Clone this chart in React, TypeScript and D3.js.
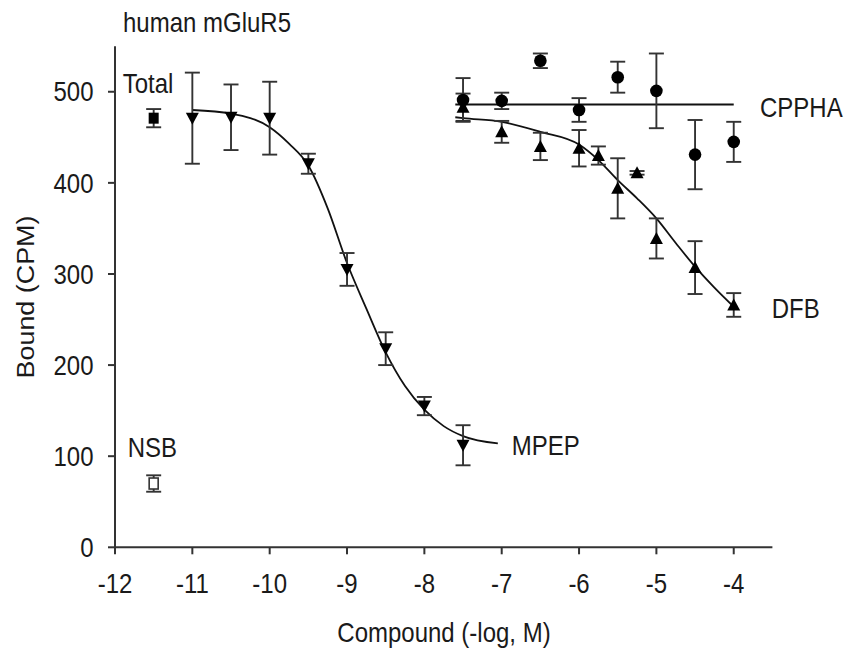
import React from "react";
import * as d3 from "d3";

// ---- data ----
const xTicks = [-12, -11, -10, -9, -8, -7, -6, -5, -4];
const yTicks = [0, 100, 200, 300, 400, 500];

const mpepX = [-11, -10.5, -10, -9.5, -9, -8.5, -8, -7.5];
const mpepY = [471, 472, 471, 421, 305, 218, 155, 112];
const mpepErr = [50, 36, 40, 11, 18, 18, 10, 22];

const dfbX = [-7.5, -7, -6.5, -6, -5.75, -5.5, -5.25, -5, -4.5, -4];
const dfbY = [483, 456, 440, 438, 430, 394, 411, 339, 307, 266];
const dfbErr = [15, 12, 15, 20, 10, 33, 2, 22, 29, 13];

const cpphaX = [-7.5, -7, -6.5, -6, -5.5, -5, -4.5, -4];
const cpphaY = [491, 490, 534, 480, 516, 501, 431, 445];
const cpphaErr = [24, 9, 8, 13, 17, 41, 38, 22];

const totalX = [-11.5];
const totalY = [471];
const totalErr = [10];

const nsbX = [-11.5];
const nsbY = [70];
const nsbErr = [9];

// fitted curves
const mpepFitX = [-11, -10.5, -10, -9.75, -9.5, -9.25, -9, -8.75, -8.5, -8.25, -8, -7.75, -7.5, -7.05];
const mpepFitY = [480, 476, 461, 443, 419, 372, 312, 262, 214, 177, 151, 133, 122, 114];

const dfbFitX = [-7.6, -7.5, -7, -6.5, -6, -5.75, -5.5, -5.25, -5, -4.75, -4.5, -4.25, -4];
const dfbFitY = [472, 471, 467, 456, 442, 425, 403, 383, 361, 334, 308, 285, 264];

const cpphaFitX = [-7.6, -4];
const cpphaFitY = [486, 486];

const W = 851;
const H = 652;
const FONT = "'Liberation Sans', Arial, Helvetica, sans-serif";
const INK = "#1a1a1a";
const LINE = "#333";

const x = d3.scaleLinear().domain([-12, -3.5]).range([115, 772.4]);
const y = d3.scaleLinear().domain([0, 550]).range([547.3, 46.2]);

const lineGen = d3
  .line<[number, number]>()
  .x((d) => x(d[0]))
  .y((d) => y(d[1]))
  .curve(d3.curveMonotoneX);

function zip(a: number[], b: number[]): [number, number][] {
  return a.map((v, i) => [v, b[i]]);
}

function T({
  px,
  py,
  anchor = "start",
  size = 24,
  rotate = 0,
  children,
}: {
  px: number;
  py: number;
  anchor?: string;
  size?: number;
  rotate?: number;
  children: React.ReactNode;
}) {
  const tr = rotate
    ? `translate(${px},${py}) rotate(${rotate}) scale(1.12,1)`
    : `translate(${px},${py}) scale(1,1.12)`;
  return (
    <text
      transform={tr}
      textAnchor={anchor as any}
      fontFamily={FONT}
      fontSize={size}
      fill={INK}
    >
      {children}
    </text>
  );
}

function ErrorBars({ xs, ys, es }: { xs: number[]; ys: number[]; es: number[] }) {
  const cap = 7.5;
  return (
    <g stroke={LINE} strokeWidth={1.9} fill="none">
      {xs.map((xv, i) => {
        const cx = x(xv);
        const top = y(ys[i] + es[i]);
        const bot = y(ys[i] - es[i]);
        return (
          <g key={i}>
            <line x1={cx} x2={cx} y1={top} y2={bot} />
            <line x1={cx - cap} x2={cx + cap} y1={top} y2={top} />
            <line x1={cx - cap} x2={cx + cap} y1={bot} y2={bot} />
          </g>
        );
      })}
    </g>
  );
}

function triPath(cx: number, cy: number, down: boolean) {
  const hw = 6.5;
  if (down) {
    return `M${cx - hw},${cy - 5.5}L${cx + hw},${cy - 5.5}L${cx},${cy + 6.5}Z`;
  }
  return `M${cx - hw},${cy + 5.5}L${cx + hw},${cy + 5.5}L${cx},${cy - 6.5}Z`;
}

export default function App() {
  return (
    <svg
      width={W}
      height={H}
      viewBox={`0 0 ${W} ${H}`}
      style={{ position: "absolute", left: 0, top: 0, background: "#fff" }}
    >
      <rect width={W} height={H} fill="#fff" />

      {/* axes */}
      <g stroke={LINE} strokeWidth={2} fill="none">
        <line x1={x(-12)} x2={x(-3.5)} y1={y(0)} y2={y(0)} />
        <line x1={x(-12)} x2={x(-12)} y1={y(0)} y2={y(550)} />
        {xTicks.map((t) => (
          <line key={"xt" + t} x1={x(t)} x2={x(t)} y1={y(0)} y2={y(0) + 7} />
        ))}
        {yTicks.map((t) => (
          <line key={"yt" + t} x1={x(-12) - 7} x2={x(-12)} y1={y(t)} y2={y(t)} />
        ))}
      </g>
      {xTicks.map((t) => (
        <T key={"xl" + t} px={x(t)} py={593.3} anchor="middle">
          {String(t)}
        </T>
      ))}
      {yTicks.map((t) => (
        <T key={"yl" + t} px={93.5} py={y(t) + 9.7} anchor="end">
          {String(t)}
        </T>
      ))}

      <T px={444} py={642} anchor="middle">
        Compound (-log, M)
      </T>
      <T px={34} py={297} anchor="middle" rotate={-90}>
        Bound (CPM)
      </T>
      <T px={123} py={32.3}>human mGluR5</T>

      {/* fitted curves */}
      <g fill="none" stroke="#111" strokeWidth={1.8}>
        <path d={lineGen(zip(mpepFitX, mpepFitY)) || ""} />
        <path d={lineGen(zip(dfbFitX, dfbFitY)) || ""} />
        <path d={lineGen(zip(cpphaFitX, cpphaFitY)) || ""} />
      </g>

      {/* error bars */}
      <ErrorBars xs={mpepX} ys={mpepY} es={mpepErr} />
      <ErrorBars xs={dfbX} ys={dfbY} es={dfbErr} />
      <ErrorBars xs={cpphaX} ys={cpphaY} es={cpphaErr} />
      <ErrorBars xs={totalX} ys={totalY} es={totalErr} />
      <ErrorBars xs={nsbX} ys={nsbY} es={nsbErr} />

      {/* markers */}
      <g fill="#000">
        {mpepX.map((xv, i) => (
          <path key={"m" + i} d={triPath(x(xv), y(mpepY[i]), true)} />
        ))}
        {dfbX.map((xv, i) => (
          <path key={"d" + i} d={triPath(x(xv), y(dfbY[i]), false)} />
        ))}
        {cpphaX.map((xv, i) => (
          <circle key={"c" + i} cx={x(xv)} cy={y(cpphaY[i])} r={6.3} />
        ))}
        {totalX.map((xv, i) => (
          <rect key={"t" + i} x={x(xv) - 5} y={y(totalY[i]) - 5.5} width={10} height={11} />
        ))}
      </g>
      {nsbX.map((xv, i) => (
        <rect
          key={"n" + i}
          x={x(xv) - 4.5}
          y={y(nsbY[i]) - 5.5}
          width={9}
          height={11}
          fill="#fff"
          stroke={LINE}
          strokeWidth={1.6}
        />
      ))}

      {/* series labels */}
      <T px={122.7} py={93.3}>Total</T>
      <T px={127.7} py={457.3}>NSB</T>
      <T px={511.7} py={455}>MPEP</T>
      <T px={760} py={116.7}>CPPHA</T>
      <T px={771.7} py={318.3}>DFB</T>
    </svg>
  );
}
